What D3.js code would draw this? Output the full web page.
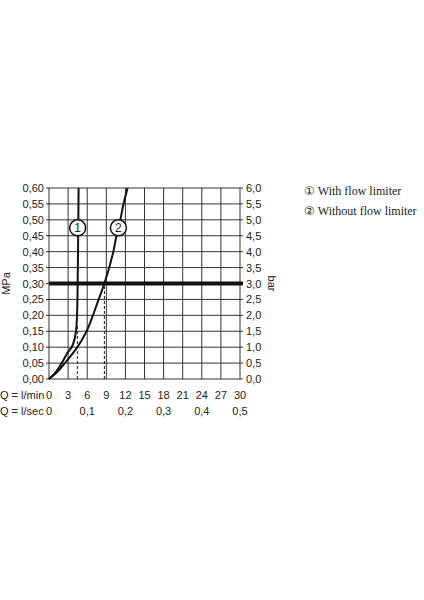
<!DOCTYPE html>
<html><head><meta charset="utf-8">
<script src="https://cdn.jsdelivr.net/npm/d3@7"></script>
<style>body{margin:0;background:#fff}text{font-family:"Liberation Sans",Arial,sans-serif;fill:#222}</style>
</head><body><svg id="c" width="424" height="600"></svg>
<script>
const mpaTicks = d3.range(0, 0.601, 0.05);
const lminTicks = [0, 3, 6, 9, 12, 15, 18, 21, 24, 27, 30];
const lsecTicks = [0, 0.1, 0.2, 0.3, 0.4, 0.5];
// curve 1: with flow limiter  [Q l/min, MPa]
const curve1 = [[0,0],[1,0.02],[2,0.05],[3,0.085],[3.56,0.10],[4.24,0.15],[4.4,0.2],[4.5,0.3],[4.58,0.45],[4.65,0.6]];
// curve 2: without flow limiter
const curve2 = [[0,0],[1.2,0.02],[2.5,0.05],[4.45,0.10],[5.9,0.15],[6.9,0.20],[7.8,0.25],[8.7,0.30],[10.1,0.40],[10.6,0.45],[11.2,0.50],[11.7,0.55],[12.35,0.60]];
const dashes = [[4.45, 0.17], [8.7, 0.30]];
const labels = [["1", 4.5, 0.475], ["2", 10.9, 0.475]];
const legend = ["① With flow limiter", "② Without flow limiter"];

const svg = d3.select("#c");
const x = d3.scaleLinear().domain([0, 30]).range([49, 240]);
const y = d3.scaleLinear().domain([0, 0.6]).range([379, 188]);

const g = svg.append("g");
g.selectAll(".v").data(lminTicks).join("line")
  .attr("x1", d => x(d)).attr("x2", d => x(d)).attr("y1", y(0)).attr("y2", y(0.6))
  .attr("stroke", "#333").attr("stroke-width", 1);
g.selectAll(".h").data(mpaTicks).join("line")
  .attr("x1", x(0) - 3).attr("x2", x(30) + 3).attr("y1", d => y(d)).attr("y2", d => y(d))
  .attr("stroke", "#333").attr("stroke-width", 1);
g.append("line").attr("x1", x(0)).attr("x2", x(30) + 3).attr("y1", y(0.3)).attr("y2", y(0.3))
  .attr("stroke", "#111").attr("stroke-width", 4);

g.selectAll(".ll").data(mpaTicks).join("text")
  .attr("x", 44).attr("y", d => y(d) + 4).attr("text-anchor", "end").attr("font-size", 11)
  .text(d => d3.format(".2f")(d).replace(".", ","));
g.selectAll(".rl").data(mpaTicks).join("text")
  .attr("x", 246).attr("y", d => y(d) + 4).attr("font-size", 11)
  .text(d => d3.format(".1f")(d * 10).replace(".", ","));
g.append("text").attr("transform", `translate(10,${y(0.3)}) rotate(-90)`).attr("text-anchor", "middle").attr("font-size", 11).text("MPa");
g.append("text").attr("transform", `translate(268,${y(0.3)}) rotate(90)`).attr("text-anchor", "middle").attr("font-size", 11).text("bar");

g.selectAll(".bl").data(lminTicks).join("text")
  .attr("x", d => x(d)).attr("y", 399).attr("text-anchor", "middle").attr("font-size", 11).text(d => d);
g.selectAll(".bs").data(lsecTicks).join("text")
  .attr("x", d => x(d * 60)).attr("y", 415).attr("text-anchor", "middle").attr("font-size", 11)
  .text(d => d === 0 ? "0" : String(d).replace(".", ","));
g.append("text").attr("x", 0).attr("y", 399).attr("font-size", 11).text("Q = l/min");
g.append("text").attr("x", 0).attr("y", 415).attr("font-size", 11).text("Q = l/sec");

g.selectAll(".dash").data(dashes).join("line")
  .attr("x1", d => x(d[0])).attr("x2", d => x(d[0])).attr("y1", y(0)).attr("y2", d => y(d[1]))
  .attr("stroke", "#222").attr("stroke-width", 1).attr("stroke-dasharray", "3,2");

const line = d3.line().x(d => x(d[0])).y(d => y(d[1])).curve(d3.curveMonotoneY);
[curve1, curve2].forEach(c => g.append("path").attr("d", line(c)).attr("fill", "none").attr("stroke", "#111").attr("stroke-width", 2));

const lab = g.selectAll(".lab").data(labels).join("g").attr("transform", d => `translate(${x(d[1])},${y(d[2])})`);
lab.append("circle").attr("r", 8).attr("fill", "#fff").attr("stroke", "#111").attr("stroke-width", 1.5);
lab.append("text").attr("y", 4.5).attr("text-anchor", "middle").attr("font-size", 12).text(d => d[0]);

svg.selectAll(".lg").data(legend).join("text")
  .attr("x", 304).attr("y", (d, i) => 195 + i * 20).attr("font-size", 12)
  .style("font-family", "'Liberation Serif',serif").text(d => d);
</script></body></html>
